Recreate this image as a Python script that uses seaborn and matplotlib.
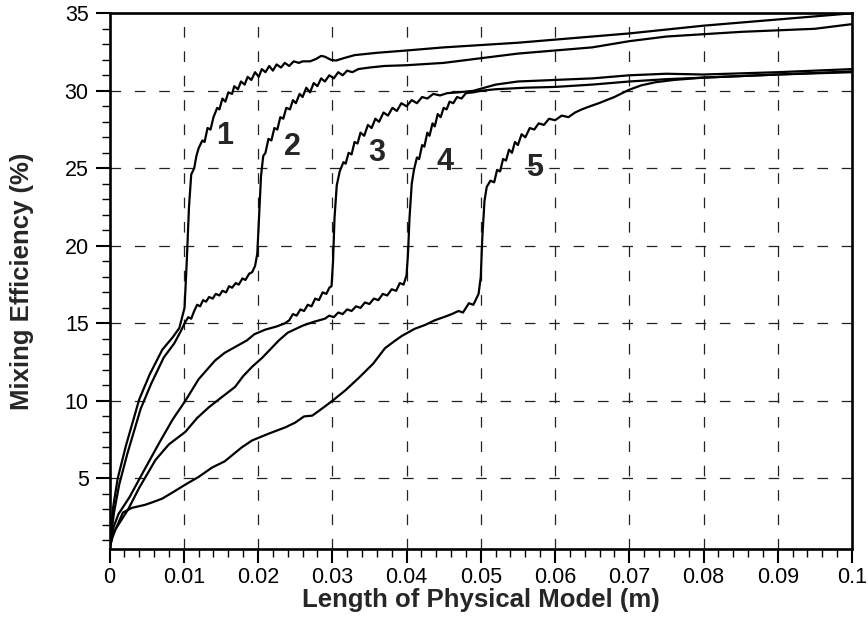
import matplotlib
matplotlib.use("Agg")
import matplotlib.pyplot as plt
from matplotlib.ticker import MultipleLocator, FixedLocator
import seaborn as sns
import pandas as pd

# Mixing efficiency along the physical model for five injection positions
x1 = [0, 0.0005, 0.0011, 0.0022, 0.004, 0.0054, 0.0071, 0.0085, 0.0094, 0.0101, 0.0104, 0.0107,
      0.011, 0.0114, 0.0117, 0.012, 0.0125, 0.0128, 0.0132, 0.0136, 0.014, 0.0145, 0.0148, 0.0152,
      0.0156, 0.016, 0.0165, 0.0168, 0.0173, 0.0177, 0.0182, 0.0186, 0.0191, 0.0196, 0.0201, 0.0205,
      0.021, 0.0215, 0.022, 0.0225, 0.0231, 0.0236, 0.0242, 0.0248, 0.0255, 0.026, 0.027, 0.0278,
      0.0285, 0.029, 0.0298, 0.0305, 0.0315, 0.033, 0.036, 0.04, 0.045, 0.05, 0.055, 0.06, 0.065,
      0.07, 0.075, 0.08, 0.085, 0.09, 0.095, 0.1]
y1 = [0.5, 3.2, 5.0, 7.1, 10.1, 11.7, 13.3, 14.1, 14.7, 16.0, 19.0, 22.5,
      24.6, 25.0, 25.8, 26.3, 26.8, 26.7, 27.6, 27.5, 28.3, 28.9, 28.8, 29.5,
      29.3, 29.9, 29.8, 30.3, 30.1, 30.6, 30.4, 30.9, 30.7, 31.2, 30.9, 31.4,
      31.2, 31.6, 31.3, 31.7, 31.5, 31.8, 31.6, 31.9, 31.8, 31.9, 31.9, 32.05,
      32.25, 32.2, 32.0, 31.95, 32.1, 32.3, 32.45, 32.6, 32.8, 32.95, 33.1, 33.3, 33.5,
      33.7, 33.95, 34.2, 34.4, 34.6, 34.8, 35.0]

x2 = [0, 0.0006, 0.0013, 0.0024, 0.0042, 0.0056, 0.0073, 0.0087, 0.0096, 0.0101, 0.0106, 0.011,
      0.0114, 0.0118, 0.0122, 0.0126, 0.013, 0.0134, 0.0139, 0.0143, 0.0148, 0.0152, 0.0157, 0.0161,
      0.0165, 0.017, 0.0174, 0.0179, 0.0183, 0.0188, 0.0192, 0.0196, 0.0199, 0.0201, 0.0204, 0.0207,
      0.021, 0.0214, 0.0218, 0.0222, 0.0226, 0.023, 0.0234, 0.0238, 0.0243, 0.0247, 0.0251, 0.0256,
      0.026, 0.0265, 0.027, 0.0275, 0.028, 0.0285, 0.029, 0.0296, 0.0302, 0.0308, 0.0314, 0.032,
      0.0327, 0.0335, 0.035, 0.037, 0.04, 0.045, 0.05, 0.055, 0.06, 0.065, 0.07, 0.075, 0.08,
      0.085, 0.09, 0.095, 0.1]
y2 = [0.5, 2.8, 4.6, 6.6, 9.5, 11.1, 12.8, 13.7, 14.5, 15.0, 15.4, 15.3,
      15.8, 16.2, 16.1, 16.5, 16.4, 16.7, 16.6, 16.9, 16.8, 17.1, 17.0, 17.4,
      17.3, 17.6, 17.5, 17.9, 17.8, 18.2, 18.3, 18.7, 19.5, 21.5, 24.5, 25.8,
      26.0, 26.9, 26.8, 27.6, 27.5, 28.3, 28.2, 28.9, 28.8, 29.4, 29.2, 29.8,
      29.6, 30.2, 29.9, 30.5, 30.3, 30.8, 30.6, 31.0, 30.8, 31.2, 31.0, 31.3,
      31.2, 31.4, 31.5, 31.6, 31.65, 31.8, 32.1, 32.4, 32.6, 32.8, 33.2, 33.5, 33.65,
      33.8, 33.9, 34.0, 34.3]

x3 = [0, 0.0005, 0.0012, 0.0027, 0.0044, 0.0067, 0.0085, 0.0102, 0.012, 0.0142, 0.0155, 0.017,
      0.0185, 0.0195, 0.021, 0.0225, 0.0236, 0.0242, 0.0247, 0.0252, 0.0257, 0.0262, 0.0267, 0.0272,
      0.0277, 0.0282, 0.0287, 0.0292, 0.0296, 0.0299, 0.0301, 0.0303, 0.0306, 0.031, 0.0315, 0.0318,
      0.0322, 0.0326, 0.033, 0.0334, 0.0338, 0.0343, 0.0348, 0.0353, 0.0358, 0.0363, 0.0369, 0.0375,
      0.0381, 0.0387, 0.0393, 0.04, 0.0407, 0.0414, 0.0421, 0.0428, 0.0436, 0.0445, 0.0455, 0.047,
      0.049, 0.052, 0.055, 0.06, 0.065, 0.07, 0.075, 0.08, 0.09, 0.1]
y3 = [0.5, 1.8, 2.7, 3.8, 5.3, 7.3, 8.8, 10.0, 11.4, 12.6, 13.1, 13.5,
      13.9, 14.3, 14.6, 14.8, 15.0, 15.2, 15.6, 15.5, 15.9, 15.8, 16.2, 16.1,
      16.6, 16.5, 17.0, 16.9, 17.3, 17.4, 19.0, 21.8, 23.9, 24.8, 25.4, 25.3,
      26.0, 25.9, 26.7, 26.6, 27.3, 27.1, 27.8, 27.6, 28.2, 28.0, 28.6, 28.4,
      28.9, 28.7, 29.2, 29.0, 29.4, 29.2, 29.6, 29.5, 29.8, 29.7, 29.85, 29.9,
      30.0, 30.4, 30.6, 30.7, 30.8, 31.0, 31.1, 31.05, 31.2, 31.4]

x4 = [0, 0.0005, 0.0013, 0.0025, 0.004, 0.0062, 0.008, 0.0102, 0.0118, 0.0134, 0.015, 0.0169,
      0.018, 0.0192, 0.0206, 0.0218, 0.0228, 0.024, 0.026, 0.0275, 0.029, 0.0296, 0.0302, 0.0308,
      0.0314, 0.032, 0.0326, 0.0332, 0.0338, 0.0344, 0.035, 0.0356, 0.0362, 0.0368, 0.0374, 0.038,
      0.0386, 0.0391, 0.0396, 0.04, 0.0402, 0.0404, 0.0407, 0.041, 0.0414, 0.0417, 0.0421, 0.0424,
      0.0428, 0.0431, 0.0435, 0.0438, 0.0442, 0.0446, 0.045, 0.0454, 0.0458, 0.0463, 0.0468, 0.0474,
      0.048, 0.049, 0.05, 0.052, 0.056, 0.06, 0.065, 0.07, 0.075, 0.08, 0.09, 0.1]
y4 = [0.5, 1.5, 2.1, 3.0, 4.4, 6.2, 7.2, 8.0, 8.9, 9.6, 10.2, 10.9,
      11.6, 12.2, 12.8, 13.4, 13.9, 14.4, 14.85, 15.1, 15.3, 15.5, 15.4, 15.7,
      15.6, 15.9, 15.8, 16.1, 16.0, 16.35, 16.25, 16.6, 16.5, 16.9, 16.8, 17.2,
      17.1, 17.6, 17.5, 18.1, 19.5, 21.8, 24.0, 24.9, 25.7, 25.6, 26.5, 26.4,
      27.3, 27.1, 27.9, 27.7, 28.5, 28.3, 28.9, 28.8, 29.3, 29.2, 29.6, 29.5,
      29.85, 29.9, 30.0, 30.1, 30.2, 30.25, 30.4, 30.6, 30.75, 30.85, 31.05, 31.2]

x5 = [0, 0.0004, 0.0008, 0.0018, 0.003, 0.0048, 0.006, 0.0071, 0.0085, 0.0102, 0.012, 0.0138,
      0.0155, 0.0178, 0.0192, 0.0215, 0.0237, 0.025, 0.0262, 0.0273, 0.0286, 0.03, 0.0318, 0.0336,
      0.0355, 0.0371, 0.0385, 0.0394, 0.0411, 0.0425, 0.0438, 0.045, 0.0461, 0.047, 0.0476, 0.0484,
      0.049, 0.0497, 0.05, 0.0502, 0.0505, 0.0508, 0.0513, 0.0518, 0.0522, 0.0526, 0.053, 0.0534,
      0.0538, 0.0542, 0.0546, 0.055, 0.0555, 0.056, 0.0566, 0.0572, 0.0578, 0.0585, 0.0592, 0.06,
      0.0609, 0.0618, 0.0627, 0.0636, 0.0647, 0.0659, 0.068, 0.0699, 0.0716, 0.0735, 0.076, 0.08,
      0.09, 0.1]
y5 = [0.5, 1.2, 1.7, 2.8, 3.1, 3.3, 3.5, 3.7, 4.1, 4.6, 5.1, 5.7,
      6.1, 7.0, 7.45, 7.9, 8.3, 8.6, 9.0, 9.05, 9.5, 10.0, 10.7, 11.5,
      12.4, 13.4, 13.9, 14.2, 14.65, 14.9, 15.2, 15.4, 15.6, 15.8, 15.7, 16.3,
      16.2, 16.9, 18.0, 20.5, 22.9, 23.8, 24.2, 24.1, 24.9, 24.8, 25.6, 25.5,
      26.2, 26.0, 26.7, 26.5, 27.2, 27.0, 27.6, 27.5, 27.9, 27.8, 28.2, 28.1,
      28.4, 28.3, 28.6, 28.8, 29.0, 29.2, 29.6, 30.05, 30.35, 30.55, 30.7, 30.85,
      31.05, 31.25]

curve_names = ["1", "2", "3", "4", "5"]
label_x = [0.01556, 0.0247, 0.0360, 0.0452, 0.0573]
label_y = [27.1, 26.35, 26.0, 25.4, 25.0]

x_ticks = [0, 0.01, 0.02, 0.03, 0.04, 0.05, 0.06, 0.07, 0.08, 0.09, 0.1]
x_tick_labels = ["0", "0.01", "0.02", "0.03", "0.04", "0.05", "0.06", "0.07", "0.08", "0.09", "0.1"]
y_ticks = [5, 10, 15, 20, 25, 30, 35]
y_tick_labels = ["5", "10", "15", "20", "25", "30", "35"]

sns.set_style("ticks")
plt.rcParams["font.family"] = ["Liberation Sans", "DejaVu Sans"]

frames = []
for name, xs, ys in zip(curve_names, [x1, x2, x3, x4, x5], [y1, y2, y3, y4, y5]):
    frames.append(pd.DataFrame({"length": xs, "efficiency": ys, "curve": name}))
df = pd.concat(frames, ignore_index=True)

fig = plt.figure(figsize=(8.68, 6.23), dpi=100)
ax = fig.add_axes([0.1262, 0.1188, 0.8554, 0.8599])

# grid drawn first so the curves sit above it
for xv in x_ticks[1:-1]:
    ax.axvline(xv, color="#222222", lw=0.9, ls=(0, (8.5, 11)), zorder=1)
for yv in y_ticks[:-1]:
    ax.axhline(yv, color="#222222", lw=0.9, ls=(0, (8.5, 11)), zorder=1)

sns.lineplot(data=df, x="length", y="efficiency", units="curve", estimator=None,
             sort=False, color="black", lw=1.6, ax=ax, zorder=3)

for name, lx, ly in zip(curve_names, label_x, label_y):
    ax.text(lx, ly, name, fontsize=22, fontweight="bold", ha="center", va="center", zorder=4)

ax.set_xlim(0, 0.1)
ax.set_ylim(0.45, 35)
ax.xaxis.set_major_locator(FixedLocator(x_ticks))
ax.set_xticklabels(x_tick_labels)
ax.yaxis.set_major_locator(FixedLocator(y_ticks))
ax.set_yticklabels(y_tick_labels)
ax.xaxis.set_minor_locator(MultipleLocator(0.002))
ax.yaxis.set_minor_locator(MultipleLocator(1))

ax.tick_params(which="major", direction="out", length=10, width=1.5, labelsize=15.5,
               color="black", labelcolor="black", pad=3)
ax.tick_params(which="minor", direction="out", length=5.5, width=1.0, color="black")
ax.tick_params(axis="y", which="major", pad=5)

for side in ["left", "right", "top", "bottom"]:
    ax.spines[side].set_visible(True)
    ax.spines[side].set_linewidth(1.9)
    ax.spines[side].set_color("black")

ax.set_xlabel("Length of Physical Model (m)", fontsize=18.5, fontweight="bold")
ax.set_ylabel("Mixing Efficiency (%)", fontsize=18.5, fontweight="bold")
ax.xaxis.set_label_coords(0.5, -0.073)
ax.yaxis.set_label_coords(-0.102, 0.5)

fig.savefig("out.png", dpi=100, facecolor="white")
